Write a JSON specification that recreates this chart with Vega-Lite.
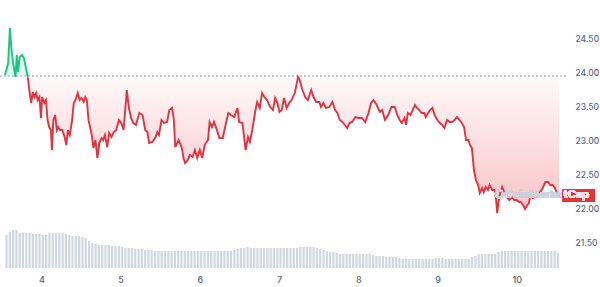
{
  "$schema": "https://vega.github.io/schema/vega-lite/v6.json",
  "width": 566,
  "height": 268,
  "autosize": {"type": "none"},
  "padding": {"left": 0, "top": 0, "right": 34, "bottom": 19},
  "background": "white",
  "config": {"view": {"stroke": null}, "font": "Inter"},
  "datasets": {
    "price": [
      {"t":3.541,"p":23.956},{"t":3.582,"p":24.132},{"t":3.603,"p":24.647},{"t":3.624,"p":24.324},{"t":3.644,"p":24.132},{"t":3.674,"p":23.926},{"t":3.690,"p":24.250},{"t":3.706,"p":24.000},{"t":3.727,"p":24.221},{"t":3.756,"p":24.250},{"t":3.781,"p":24.206},{"t":3.810,"p":24.029},{"t":3.830,"p":23.912},{"t":3.851,"p":23.706},{"t":3.872,"p":23.544},{"t":3.892,"p":23.706},{"t":3.913,"p":23.632},{"t":3.934,"p":23.691},{"t":3.954,"p":23.588},{"t":3.975,"p":23.632},{"t":3.996,"p":23.324},{"t":4.009,"p":23.632},{"t":4.037,"p":23.544},{"t":4.058,"p":23.588},{"t":4.078,"p":23.294},{"t":4.099,"p":23.191},{"t":4.120,"p":23.147},{"t":4.133,"p":22.853},{"t":4.152,"p":23.294},{"t":4.174,"p":23.368},{"t":4.195,"p":23.147},{"t":4.211,"p":23.191},{"t":4.236,"p":23.147},{"t":4.264,"p":23.147},{"t":4.294,"p":23.044},{"t":4.314,"p":22.926},{"t":4.335,"p":23.147},{"t":4.359,"p":23.074},{"t":4.388,"p":23.294},{"t":4.409,"p":23.544},{"t":4.430,"p":23.588},{"t":4.459,"p":23.691},{"t":4.483,"p":23.588},{"t":4.505,"p":23.618},{"t":4.533,"p":23.559},{"t":4.554,"p":23.632},{"t":4.574,"p":23.588},{"t":4.595,"p":23.294},{"t":4.623,"p":23.147},{"t":4.636,"p":23.074},{"t":4.657,"p":22.882},{"t":4.682,"p":23.000},{"t":4.707,"p":22.735},{"t":4.731,"p":22.956},{"t":4.760,"p":23.029},{"t":4.781,"p":23.000},{"t":4.802,"p":23.074},{"t":4.831,"p":22.897},{"t":4.855,"p":23.103},{"t":4.884,"p":23.044},{"t":4.914,"p":23.118},{"t":4.946,"p":23.147},{"t":4.979,"p":23.294},{"t":5.008,"p":23.250},{"t":5.037,"p":23.147},{"t":5.062,"p":23.485},{"t":5.078,"p":23.735},{"t":5.103,"p":23.485},{"t":5.132,"p":23.324},{"t":5.161,"p":23.250},{"t":5.194,"p":23.221},{"t":5.236,"p":23.397},{"t":5.277,"p":23.368},
      {"t":5.310,"p":23.147},{"t":5.339,"p":23.118},{"t":5.360,"p":22.956},{"t":5.401,"p":22.971},{"t":5.442,"p":23.044},{"t":5.463,"p":23.118},{"t":5.484,"p":23.074},{"t":5.516,"p":23.294},{"t":5.546,"p":23.250},{"t":5.587,"p":23.265},{"t":5.615,"p":23.441},{"t":5.649,"p":23.471},{"t":5.670,"p":23.324},{"t":5.690,"p":22.897},{"t":5.732,"p":23.000},{"t":5.773,"p":22.882},{"t":5.794,"p":22.735},{"t":5.814,"p":22.662},{"t":5.847,"p":22.706},{"t":5.875,"p":22.779},{"t":5.909,"p":22.750},{"t":5.937,"p":22.853},{"t":5.967,"p":22.735},{"t":5.999,"p":22.853},{"t":6.029,"p":22.735},{"t":6.061,"p":22.926},{"t":6.103,"p":23.000},{"t":6.123,"p":23.265},{"t":6.153,"p":23.191},{"t":6.178,"p":23.265},{"t":6.207,"p":23.176},{"t":6.247,"p":23.029},{"t":6.289,"p":23.029},{"t":6.330,"p":23.250},{"t":6.359,"p":23.397},{"t":6.392,"p":23.368},{"t":6.433,"p":23.338},{"t":6.475,"p":23.471},{"t":6.495,"p":23.265},{"t":6.537,"p":23.250},{"t":6.578,"p":22.853},{"t":6.607,"p":23.044},{"t":6.632,"p":22.971},{"t":6.661,"p":23.147},{"t":6.702,"p":23.441},{"t":6.723,"p":23.559},{"t":6.756,"p":23.471},{"t":6.785,"p":23.691},{"t":6.814,"p":23.632},{"t":6.847,"p":23.588},{"t":6.888,"p":23.485},
      {"t":6.922,"p":23.441},{"t":6.950,"p":23.618},{"t":6.979,"p":23.544},{"t":7.004,"p":23.412},{"t":7.033,"p":23.441},{"t":7.062,"p":23.618},{"t":7.095,"p":23.471},{"t":7.127,"p":23.544},{"t":7.157,"p":23.588},{"t":7.198,"p":23.691},{"t":7.219,"p":23.809},{"t":7.239,"p":23.926},{"t":7.260,"p":23.882},{"t":7.294,"p":23.735},{"t":7.335,"p":23.618},{"t":7.363,"p":23.588},{"t":7.405,"p":23.735},{"t":7.434,"p":23.632},{"t":7.467,"p":23.559},{"t":7.508,"p":23.559},{"t":7.529,"p":23.485},{"t":7.558,"p":23.544},{"t":7.591,"p":23.471},{"t":7.632,"p":23.485},{"t":7.673,"p":23.559},{"t":7.706,"p":23.441},{"t":7.735,"p":23.397},{"t":7.765,"p":23.294},{"t":7.797,"p":23.265},{"t":7.830,"p":23.221},{"t":7.859,"p":23.176},{"t":7.889,"p":23.250},{"t":7.921,"p":23.265},{"t":7.963,"p":23.338},{"t":8.004,"p":23.324},{"t":8.045,"p":23.324},{"t":8.087,"p":23.265},{"t":8.128,"p":23.397},{"t":8.161,"p":23.544},{"t":8.190,"p":23.588},{"t":8.231,"p":23.515},{"t":8.273,"p":23.412},{"t":8.301,"p":23.441},{"t":8.335,"p":23.294},{"t":8.376,"p":23.368},
      {"t":8.417,"p":23.485},{"t":8.459,"p":23.485},{"t":8.491,"p":23.368},{"t":8.521,"p":23.294},{"t":8.549,"p":23.250},{"t":8.583,"p":23.324},{"t":8.603,"p":23.221},{"t":8.624,"p":23.397},{"t":8.657,"p":23.368},{"t":8.686,"p":23.441},{"t":8.714,"p":23.515},{"t":8.739,"p":23.471},{"t":8.769,"p":23.441},{"t":8.797,"p":23.397},{"t":8.831,"p":23.397},{"t":8.850,"p":23.338},{"t":8.880,"p":23.397},{"t":8.905,"p":23.441},{"t":8.934,"p":23.471},{"t":8.962,"p":23.368},{"t":8.996,"p":23.294},{"t":9.029,"p":23.250},{"t":9.058,"p":23.221},{"t":9.086,"p":23.176},{"t":9.120,"p":23.294},{"t":9.153,"p":23.265},{"t":9.182,"p":23.265},{"t":9.215,"p":23.294},{"t":9.244,"p":23.338},{"t":9.277,"p":23.294},{"t":9.306,"p":23.250},{"t":9.334,"p":23.191},{"t":9.359,"p":23.000},{"t":9.389,"p":23.000},{"t":9.408,"p":22.926},{"t":9.433,"p":22.882},{"t":9.458,"p":22.559},{"t":9.483,"p":22.412},{"t":9.512,"p":22.338},{"t":9.532,"p":22.221},{"t":9.562,"p":22.294},{"t":9.582,"p":22.235},{"t":9.607,"p":22.309},{"t":9.636,"p":22.265},{"t":9.656,"p":22.338},{"t":9.690,"p":22.265},{"t":9.718,"p":22.265},{"t":9.739,"p":22.118},{"t":9.752,"p":21.926},{"t":9.773,"p":22.118},{"t":9.789,"p":22.221},{"t":9.814,"p":22.309},{"t":9.842,"p":22.235},{"t":9.872,"p":22.162},{"t":9.904,"p":22.118},{"t":9.938,"p":22.162},{"t":9.966,"p":22.118},{"t":9.996,"p":22.118},{"t":10.028,"p":22.088},{"t":10.049,"p":22.088},{"t":10.078,"p":22.044},{"t":10.103,"p":21.985},{"t":10.132,"p":22.044},{"t":10.152,"p":22.074},{"t":10.173,"p":22.191},{"t":10.202,"p":22.147},{"t":10.235,"p":22.162},{"t":10.269,"p":22.221},{"t":10.297,"p":22.235},{"t":10.326,"p":22.294},{"t":10.359,"p":22.382},{"t":10.393,"p":22.382},{"t":10.421,"p":22.338},{"t":10.450,"p":22.338},{"t":10.475,"p":22.309},{"t":10.504,"p":22.221},{"t":10.533,"p":22.162}
    ],
    "vol": [
      {"t":3.560,"v":66},{"t":3.602,"v":72},{"t":3.643,"v":76},{"t":3.685,"v":76},{"t":3.727,"v":70},{"t":3.768,"v":70},{"t":3.810,"v":70},{"t":3.852,"v":70},{"t":3.893,"v":68},{"t":3.935,"v":68},{"t":3.977,"v":68},{"t":4.018,"v":66},{"t":4.060,"v":66},{"t":4.102,"v":70},{"t":4.143,"v":70},{"t":4.185,"v":70},{"t":4.227,"v":70},{"t":4.268,"v":70},{"t":4.310,"v":68},{"t":4.352,"v":66},{"t":4.393,"v":64},{"t":4.435,"v":64},{"t":4.477,"v":64},{"t":4.518,"v":62},
      {"t":4.560,"v":60},{"t":4.602,"v":54},{"t":4.643,"v":50},{"t":4.685,"v":48},{"t":4.727,"v":46},{"t":4.768,"v":46},{"t":4.810,"v":46},{"t":4.852,"v":46},{"t":4.893,"v":44},{"t":4.935,"v":44},{"t":4.977,"v":44},{"t":5.018,"v":42},{"t":5.060,"v":40},{"t":5.102,"v":40},{"t":5.143,"v":40},{"t":5.185,"v":38},{"t":5.227,"v":38},{"t":5.268,"v":38},{"t":5.310,"v":36},{"t":5.352,"v":36},{"t":5.393,"v":36},{"t":5.435,"v":34},{"t":5.477,"v":34},{"t":5.518,"v":34},
      {"t":5.560,"v":34},{"t":5.602,"v":34},{"t":5.643,"v":34},{"t":5.685,"v":34},{"t":5.727,"v":34},{"t":5.768,"v":34},{"t":5.810,"v":34},{"t":5.852,"v":34},{"t":5.893,"v":34},{"t":5.935,"v":34},{"t":5.977,"v":34},{"t":6.018,"v":34},{"t":6.060,"v":34},{"t":6.102,"v":34},{"t":6.143,"v":34},{"t":6.185,"v":34},{"t":6.227,"v":34},{"t":6.268,"v":34},{"t":6.310,"v":34},{"t":6.352,"v":34},{"t":6.393,"v":34},{"t":6.435,"v":36},{"t":6.477,"v":38},{"t":6.518,"v":40},
      {"t":6.560,"v":40},{"t":6.602,"v":42},{"t":6.643,"v":40},{"t":6.685,"v":40},{"t":6.727,"v":40},{"t":6.768,"v":40},{"t":6.810,"v":40},{"t":6.852,"v":40},{"t":6.893,"v":40},{"t":6.935,"v":40},{"t":6.977,"v":40},{"t":7.018,"v":40},{"t":7.060,"v":40},{"t":7.102,"v":40},{"t":7.143,"v":40},{"t":7.185,"v":40},{"t":7.227,"v":40},{"t":7.268,"v":42},{"t":7.310,"v":42},{"t":7.352,"v":42},{"t":7.393,"v":42},{"t":7.435,"v":42},{"t":7.477,"v":40},{"t":7.518,"v":38},
      {"t":7.560,"v":36},{"t":7.602,"v":34},{"t":7.643,"v":32},{"t":7.685,"v":32},{"t":7.727,"v":30},{"t":7.768,"v":28},{"t":7.810,"v":28},{"t":7.852,"v":28},{"t":7.893,"v":28},{"t":7.935,"v":28},{"t":7.977,"v":28},{"t":8.018,"v":28},{"t":8.060,"v":28},{"t":8.102,"v":28},{"t":8.143,"v":28},{"t":8.185,"v":26},{"t":8.227,"v":24},{"t":8.268,"v":24},{"t":8.310,"v":24},{"t":8.352,"v":22},{"t":8.393,"v":22},{"t":8.435,"v":22},{"t":8.477,"v":22},{"t":8.518,"v":20},
      {"t":8.560,"v":18},{"t":8.602,"v":18},{"t":8.643,"v":18},{"t":8.685,"v":18},{"t":8.727,"v":18},{"t":8.768,"v":18},{"t":8.810,"v":18},{"t":8.852,"v":18},{"t":8.893,"v":18},{"t":8.935,"v":18},{"t":8.977,"v":20},{"t":9.018,"v":20},{"t":9.060,"v":20},{"t":9.102,"v":18},{"t":9.143,"v":18},{"t":9.185,"v":18},{"t":9.227,"v":18},{"t":9.268,"v":18},{"t":9.310,"v":18},{"t":9.352,"v":18},{"t":9.393,"v":18},{"t":9.435,"v":22},{"t":9.477,"v":24},{"t":9.518,"v":28},
      {"t":9.560,"v":28},{"t":9.602,"v":28},{"t":9.643,"v":28},{"t":9.685,"v":28},{"t":9.727,"v":28},{"t":9.768,"v":32},{"t":9.810,"v":34},{"t":9.852,"v":34},{"t":9.893,"v":34},{"t":9.935,"v":34},{"t":9.977,"v":34},{"t":10.018,"v":34},{"t":10.060,"v":34},{"t":10.102,"v":34},{"t":10.143,"v":34},{"t":10.185,"v":34},{"t":10.227,"v":34},{"t":10.268,"v":34},{"t":10.310,"v":34},{"t":10.352,"v":34},{"t":10.393,"v":34},{"t":10.435,"v":34},{"t":10.477,"v":34},{"t":10.518,"v":30}
    ]
  },
  "layer": [
    {
      "data": {"name": "vol"},
      "mark": {"type": "bar", "size": 2.2, "color": "#d0d7e2"},
      "encoding": {
        "x": {
          "field": "t", "type": "quantitative",
          "scale": {"domain": [3.5413, 10.557], "nice": false, "zero": false},
          "axis": {"values": [4, 5, 6, 7, 8, 9, 10], "format": "d", "title": null, "grid": false, "ticks": false, "domain": false, "labelPadding": 7, "labelFontSize": 9, "labelFontWeight": 500, "labelColor": "#58667e", "labelFont": "Inter"}
        },
        "y": {"field": "v", "type": "quantitative", "scale": {"domain": [0, 536], "nice": false, "zero": true}, "axis": null}
      }
    },
    {
      "data": {"name": "price"},
      "layer": [
        {
          "transform": [{"filter": "datum.t >= 3.83"}],
          "mark": {
            "type": "area",
            "color": {"gradient": "linear", "x1": 0, "y1": 0, "x2": 0, "y2": 1, "stops": [{"offset": 0, "color": "rgba(234,57,67,0.03)"}, {"offset": 1, "color": "rgba(234,57,67,0.30)"}]}
          },
          "encoding": {
            "x": {"field": "t", "type": "quantitative"},
            "y": {
              "field": "p", "type": "quantitative",
              "scale": {"domain": [21.118, 25.059], "nice": false, "zero": false},
              "axis": {"orient": "right", "values": [21.5, 22, 22.5, 23, 23.5, 24, 24.5], "format": ".2f", "title": null, "grid": false, "ticks": false, "domain": false, "labelPadding": 9, "labelFontSize": 8.5, "labelFontWeight": 500, "labelColor": "#58667e", "labelFont": "Inter"}
            },
            "y2": {"datum": 23.941}
          }
        },
        {
          "transform": [{"filter": "datum.t <= 3.83"}],
          "mark": {"type": "area", "color": "rgba(22,199,132,0.12)"},
          "encoding": {
            "x": {"field": "t", "type": "quantitative"},
            "y": {"field": "p", "type": "quantitative"},
            "y2": {"datum": 23.941}
          }
        },
        {
          "mark": {"type": "rule", "color": "#c9ced8", "strokeWidth": 1, "strokeDash": [1.5, 2.5]},
          "encoding": {"y": {"datum": 23.941}}
        },
        {
          "transform": [{"filter": "datum.t <= 3.83"}],
          "mark": {"type": "line", "color": "#16c784", "strokeWidth": 1.9},
          "encoding": {
            "x": {"field": "t", "type": "quantitative"},
            "y": {"field": "p", "type": "quantitative"}
          }
        },
        {
          "transform": [{"filter": "datum.t >= 3.83"}],
          "mark": {"type": "line", "color": "#e2333f", "strokeWidth": 1.9},
          "encoding": {
            "x": {"field": "t", "type": "quantitative"},
            "y": {"field": "p", "type": "quantitative"}
          }
        },
        {
          "mark": {"type": "point", "shape": "circle", "filled": false, "color": "#cdd2db", "size": 55, "strokeWidth": 1.5, "clip": false},
          "encoding": {"x": {"datum": 9.777}, "y": {"datum": 22.206}}
        },
        {
          "mark": {"type": "text", "text": "CoinMarke", "align": "right", "baseline": "middle", "font": "Inter", "fontSize": 11, "fontWeight": "bold", "color": "#cdd2db", "opacity": 0.9, "clip": false},
          "encoding": {"x": {"datum": 10.582}, "y": {"datum": 22.19}}
        },
        {
          "mark": {"type": "rect", "color": "#e2333f", "clip": false},
          "encoding": {"x": {"datum": 10.582}, "x2": {"datum": 10.98}, "y": {"datum": 22.28}, "y2": {"datum": 22.09}}
        },
        {
          "mark": {"type": "text", "text": "tCap", "align": "left", "baseline": "middle", "font": "Inter", "fontSize": 11, "fontWeight": "bold", "color": "#fbe3e4", "clip": false},
          "encoding": {"x": {"datum": 10.59}, "y": {"datum": 22.19}}
        }
      ]
    }
  ],
  "resolve": {"scale": {"y": "independent"}}
}
